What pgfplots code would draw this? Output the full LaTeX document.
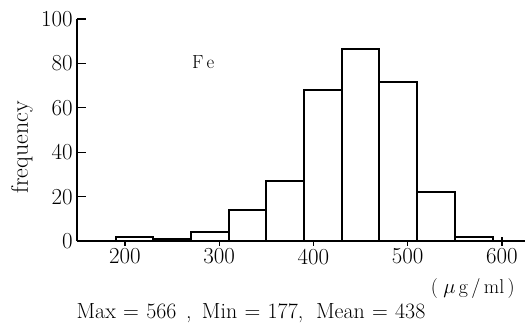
\documentclass[border=0pt]{standalone}
\usepackage{pgfplots}
\pgfplotsset{compat=1.18}
\begin{document}
\begin{tikzpicture}
\begin{axis}[
  scale only axis,
  width=447.7bp, height=222bp,
  xmin=149, xmax=624, ymin=0, ymax=100,
  axis lines=left,
  axis line style={line width=1.2pt, -},
  xtick={200,300,400,500,600},
  ytick={0,20,40,60,80,100},
  xtick align=center,
  ytick align=inside,
  major tick length=9bp,
  tick style={line width=1.2pt, black},
  /pgf/number format/assume math mode=true,
  tick label style={font=\fontsize{23}{26}\selectfont},
  yticklabel style={inner sep=0bp, xshift=-4bp},
  xticklabel style={inner sep=0bp, yshift=-3bp},
  clip=false,
]
\addplot[ybar interval, fill=white, draw=black, line width=2pt]
  coordinates {(190,2) (230,1) (270,4) (310,14) (350,27) (390,68) (430,86.5) (470,71.5) (510,22) (550,2) (590,0)};
\node[font=\fontsize{19}{22}\selectfont, anchor=base] at (axis cs:283,77.8) {F\,e};
\node[font=\fontsize{24}{28}\selectfont, rotate=90] at (axis cs:90.7,42.3) {frequency};
\node[font=\fontsize{20}{24}\selectfont, anchor=base] at (axis cs:569,-23.4) {(\;$\mu$\,g\,/\,ml\,)};
\node[font=\fontsize{22}{26}\selectfont, anchor=base] at (axis cs:333.7,-35.1) {Max\,\,=\,\,566\;\,, \,Min\,\,=\,\,177,\; Mean\,\,=\,\,438};
\path (axis cs:67.4,108.6) (axis cs:630.8,-38.7);
\end{axis}
\end{tikzpicture}
\end{document}
